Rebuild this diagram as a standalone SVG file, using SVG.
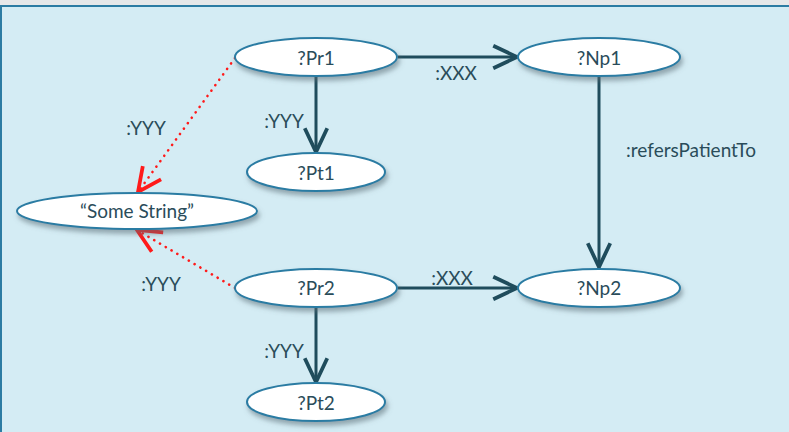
<svg xmlns="http://www.w3.org/2000/svg" width="789" height="432" viewBox="0 0 789 432">
<defs>
<style>
.node ellipse{fill:#ffffff;stroke:#2c7ca3;stroke-width:2;filter:url(#sh)}
.t{font-family:Lato,"Open Sans","Liberation Sans",sans-serif;font-size:19px;fill:#2a4c5a;text-anchor:middle}
.e{fill:none;stroke:#1f4c5c;stroke-width:3}
.d{fill:none;stroke:#ff1a1a;stroke-width:2.6;stroke-dasharray:0.1 6.6;stroke-linecap:round}
</style>
<filter id="sh" x="-20%" y="-40%" width="140%" height="190%">
<feDropShadow dx="2" dy="4" stdDeviation="2.5" flood-color="#5a6d75" flood-opacity="0.55"/>
</filter>
<marker id="ah" markerUnits="userSpaceOnUse" markerWidth="30" markerHeight="30" refX="20" refY="10" orient="auto" viewBox="0 0 24 20">
<path d="M1,1 L20,10 L1,19" fill="none" stroke="#1f4c5c" stroke-width="3"/>
</marker>
<marker id="ar" markerUnits="userSpaceOnUse" markerWidth="30" markerHeight="30" refX="20" refY="10" orient="auto" viewBox="0 0 24 20">
<path d="M1,1 L20,10 L1,19" fill="none" stroke="#ff1a1a" stroke-width="3"/>
</marker>
</defs>
<rect x="0" y="0" width="789" height="432" fill="#e6e8e9"/>
<rect x="1" y="6" width="800" height="440" fill="#d4ecf4" stroke="#2c7ca3" stroke-width="2"/>
<g id="connectors">
<line class="e" x1="398" y1="57" x2="517" y2="57" marker-end="url(#ah)"/>
<line class="e" x1="316" y1="76" x2="316" y2="152" marker-end="url(#ah)"/>
<line class="e" x1="599" y1="76" x2="599" y2="267" marker-end="url(#ah)"/>
<line class="e" x1="398" y1="288" x2="517" y2="288" marker-end="url(#ah)"/>
<line class="e" x1="316" y1="307" x2="316" y2="382" marker-end="url(#ah)"/>
<line class="d" x1="235" y1="58" x2="138" y2="192" marker-end="url(#ar)"/>
<line class="d" x1="235" y1="288" x2="137" y2="230" marker-end="url(#ar)"/>
<text class="t" x="456" y="80">:XXX</text>
<text class="t" x="284" y="128">:YYY</text>
<text class="t" x="146" y="135">:YYY</text>
<text class="t" x="691" y="157">:refersPatientTo</text>
<text class="t" x="452" y="285">:XXX</text>
<text class="t" x="161" y="291">:YYY</text>
<text class="t" x="284" y="358">:YYY</text>
</g>
<g id="Pr1" class="node"><ellipse cx="316" cy="57" rx="81" ry="19"/><text class="t" x="316" y="65">?Pr1</text></g>
<g id="Np1" class="node"><ellipse cx="599" cy="57" rx="81" ry="19"/><text class="t" x="599" y="65">?Np1</text></g>
<g id="Pt1" class="node"><ellipse cx="316" cy="172" rx="69" ry="19"/><text class="t" x="316" y="180">?Pt1</text></g>
<g id="SomeString" class="node"><ellipse cx="137" cy="211" rx="120" ry="18"/><text class="t" x="137" y="218">“Some String”</text></g>
<g id="Pr2" class="node"><ellipse cx="316" cy="288" rx="81" ry="19"/><text class="t" x="316" y="295">?Pr2</text></g>
<g id="Np2" class="node"><ellipse cx="599" cy="288" rx="81" ry="19"/><text class="t" x="599" y="295">?Np2</text></g>
<g id="Pt2" class="node"><ellipse cx="316" cy="402" rx="69" ry="19"/><text class="t" x="316" y="410">?Pt2</text></g>
</svg>
